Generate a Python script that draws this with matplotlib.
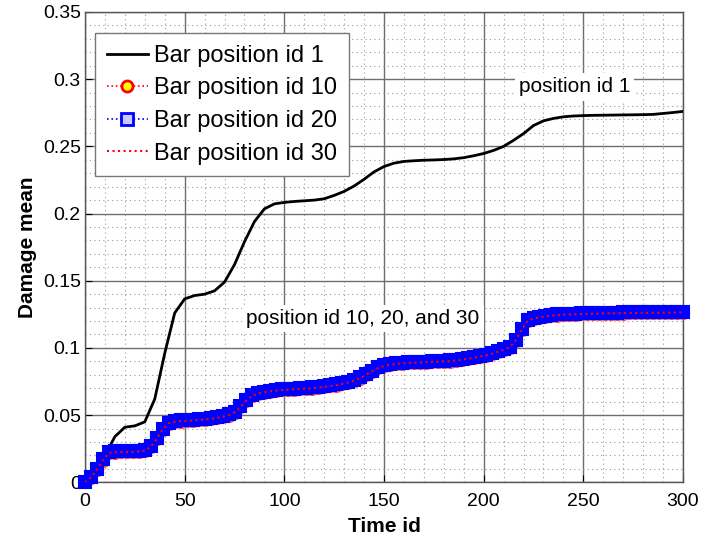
import numpy as np
import matplotlib.pyplot as plt
from matplotlib.lines import Line2D
from matplotlib.ticker import MultipleLocator

plt.rcParams['font.family'] = ['Liberation Sans', 'DejaVu Sans']

# time ids for bar position 1 (every 5th step)
time_pos1 = list(range(0, 301, 5))
dmg_pos1 = [
    0.0000, 0.0080, 0.0200, 0.0340, 0.0410, 0.0420, 0.0450, 0.0620, 0.0960, 0.1260,
    0.1365, 0.1390, 0.1400, 0.1425, 0.1490, 0.1620, 0.1790, 0.1940, 0.2035, 0.2072,
    0.2083, 0.2090, 0.2095, 0.2100, 0.2110, 0.2135, 0.2165, 0.2205, 0.2255, 0.2310,
    0.2350, 0.2375, 0.2388, 0.2393, 0.2397, 0.2399, 0.2402, 0.2407, 0.2416, 0.2430,
    0.2447, 0.2470, 0.2500, 0.2545, 0.2595, 0.2655, 0.2690, 0.2708, 0.2720, 0.2726,
    0.2729, 0.2731, 0.2732, 0.2733, 0.2734, 0.2735, 0.2736, 0.2738, 0.2745, 0.2752,
    0.2760,
]

# time ids for bar positions 10, 20, 30 (every 3rd step)
time_pos = list(range(0, 301, 3))
dmg_pos20 = [
    0.0000, 0.0040, 0.0100, 0.0170, 0.0225, 0.0230, 0.0231, 0.0232, 0.0233, 0.0235,
    0.0240, 0.0270, 0.0330, 0.0400, 0.0445, 0.0455, 0.0460, 0.0462, 0.0465, 0.0468,
    0.0472, 0.0477, 0.0484, 0.0493, 0.0505, 0.0525, 0.0565, 0.0615, 0.0650, 0.0665,
    0.0675, 0.0682, 0.0688, 0.0692, 0.0695, 0.0698, 0.0700, 0.0703, 0.0706, 0.0710,
    0.0715, 0.0721, 0.0728, 0.0737, 0.0748, 0.0762, 0.0780, 0.0805, 0.0832, 0.0855,
    0.0870, 0.0880, 0.0886, 0.0890, 0.0893, 0.0895, 0.0897, 0.0899, 0.0901, 0.0903,
    0.0905, 0.0907, 0.0911, 0.0917, 0.0924, 0.0932, 0.0941, 0.0950, 0.0962, 0.0976,
    0.0990, 0.1010, 0.1060, 0.1140, 0.1205, 0.1225, 0.1233, 0.1240, 0.1245, 0.1249,
    0.1252, 0.1254, 0.1256, 0.1258, 0.1259, 0.1260, 0.1261, 0.1262, 0.1263, 0.1263,
    0.1264, 0.1265, 0.1265, 0.1266, 0.1266, 0.1267, 0.1267, 0.1268, 0.1268, 0.1269,
    0.1270,
]
dmg_pos10 = [
    0.0000, 0.0035, 0.0093, 0.0162, 0.0216, 0.0221, 0.0222, 0.0223, 0.0224, 0.0226,
    0.0232, 0.0262, 0.0322, 0.0392, 0.0437, 0.0447, 0.0452, 0.0454, 0.0457, 0.0460,
    0.0464, 0.0469, 0.0476, 0.0485, 0.0497, 0.0517, 0.0557, 0.0607, 0.0642, 0.0657,
    0.0667, 0.0674, 0.0680, 0.0684, 0.0687, 0.0690, 0.0692, 0.0695, 0.0698, 0.0702,
    0.0707, 0.0713, 0.0720, 0.0729, 0.0740, 0.0754, 0.0772, 0.0797, 0.0824, 0.0847,
    0.0862, 0.0872, 0.0878, 0.0882, 0.0885, 0.0887, 0.0889, 0.0891, 0.0893, 0.0895,
    0.0897, 0.0899, 0.0903, 0.0909, 0.0916, 0.0924, 0.0933, 0.0942, 0.0954, 0.0968,
    0.0982, 0.1002, 0.1052, 0.1132, 0.1197, 0.1217, 0.1225, 0.1232, 0.1237, 0.1241,
    0.1244, 0.1246, 0.1248, 0.1250, 0.1251, 0.1252, 0.1253, 0.1254, 0.1255, 0.1255,
    0.1256, 0.1257, 0.1257, 0.1258, 0.1258, 0.1259, 0.1259, 0.1260, 0.1260, 0.1261,
    0.1262,
]
dmg_pos30 = [
    0.0000, 0.0037, 0.0095, 0.0165, 0.0219, 0.0224, 0.0225, 0.0226, 0.0227, 0.0229,
    0.0234, 0.0265, 0.0325, 0.0395, 0.0440, 0.0450, 0.0455, 0.0457, 0.0460, 0.0463,
    0.0467, 0.0472, 0.0479, 0.0488, 0.0500, 0.0520, 0.0560, 0.0610, 0.0645, 0.0660,
    0.0670, 0.0677, 0.0683, 0.0687, 0.0690, 0.0693, 0.0695, 0.0698, 0.0701, 0.0705,
    0.0710, 0.0716, 0.0723, 0.0732, 0.0743, 0.0757, 0.0775, 0.0800, 0.0827, 0.0850,
    0.0865, 0.0875, 0.0881, 0.0885, 0.0888, 0.0890, 0.0892, 0.0894, 0.0896, 0.0898,
    0.0900, 0.0902, 0.0906, 0.0912, 0.0919, 0.0927, 0.0936, 0.0945, 0.0957, 0.0971,
    0.0985, 0.1005, 0.1055, 0.1135, 0.1200, 0.1220, 0.1228, 0.1235, 0.1240, 0.1244,
    0.1247, 0.1249, 0.1251, 0.1253, 0.1254, 0.1255, 0.1256, 0.1257, 0.1258, 0.1258,
    0.1259, 0.1260, 0.1260, 0.1261, 0.1261, 0.1262, 0.1262, 0.1263, 0.1263, 0.1264,
    0.1265,
]

fig = plt.figure(figsize=(7.01, 5.42), dpi=100)
ax = fig.add_axes([85 / 701, 1 - 482.3 / 542, (683 - 85) / 701, (482.3 - 12) / 542])

# markers overlap into a solid band, so fill them with the edge colour
ax.plot(time_pos1, dmg_pos1, '-', color='black', lw=2, zorder=3)
ax.plot(time_pos, dmg_pos10, ':', color='red', lw=1.2, marker='o', ms=8,
        mfc='#ff4040', mec='#ff5050', mew=1.5, zorder=3, clip_on=False)
ax.plot(time_pos, dmg_pos20, ':', color='blue', lw=1.2, marker='s', ms=8.5,
        mfc='blue', mec='blue', mew=1.5, zorder=3, clip_on=False)
ax.plot(time_pos, dmg_pos30, ':', color='red', lw=1.5, zorder=4)

ax.set_xlim(0, 300)
ax.set_ylim(0, 0.35)
ax.xaxis.set_major_locator(MultipleLocator(50))
ax.xaxis.set_minor_locator(MultipleLocator(10))
ax.yaxis.set_major_locator(MultipleLocator(0.05))
ax.yaxis.set_minor_locator(MultipleLocator(0.01))
ax.set_yticks(np.arange(0, 0.351, 0.05))
ax.set_yticklabels(['0', '0.05', '0.1', '0.15', '0.2', '0.25', '0.3', '0.35'])

ax.grid(which='major', color='#6e6e6e', lw=1.0, ls='-')
ax.grid(which='minor', color='#9a9a9a', lw=0.8, ls=(0, (1, 3)))
ax.set_axisbelow(True)
ax.tick_params(which='major', direction='in', length=5, labelsize=14)
ax.tick_params(axis='x', which='major', pad=8)
ax.tick_params(axis='y', which='major', pad=3)
ax.tick_params(which='minor', length=0)
for sp in ax.spines.values():
    sp.set_color('#555555')
    sp.set_linewidth(1)

ax.set_xlabel('Time id', fontsize=15, fontweight='bold', labelpad=5)
ax.set_ylabel('Damage mean', fontsize=15, fontweight='bold', labelpad=4)

ax.text(245.5, 0.2943, 'position id 1', fontsize=15, ha='center', va='center',
        bbox=dict(facecolor='white', edgecolor='none', pad=3), zorder=5)
ax.text(139.5, 0.122, 'position id 10, 20, and 30', fontsize=15, ha='center', va='center',
        bbox=dict(facecolor='white', edgecolor='none', pad=3), zorder=5)

handles = [
    Line2D([], [], color='black', lw=2),
    Line2D([], [], color='red', ls=':', lw=1.2, marker='o', ms=8, mfc='yellow', mec='red', mew=2),
    Line2D([], [], color='blue', ls=':', lw=1.2, marker='s', ms=8, mfc='#c8c8ff', mec='blue', mew=2),
    Line2D([], [], color='red', ls=':', lw=1.5),
]
labels = ['Bar position id 1', 'Bar position id 10', 'Bar position id 20', 'Bar position id 30']
leg = ax.legend(handles, labels, loc='upper left', bbox_to_anchor=(10 / 598, 1 - 21 / 470.3),
                fontsize=17, handlelength=1.75, handletextpad=0.25, borderaxespad=0,
                labelspacing=0.45, fancybox=False, framealpha=1, edgecolor='#777777',
                borderpad=0.5)
leg.get_frame().set_linewidth(1)
leg.set_zorder(6)

fig.savefig('out.png', dpi=100)
